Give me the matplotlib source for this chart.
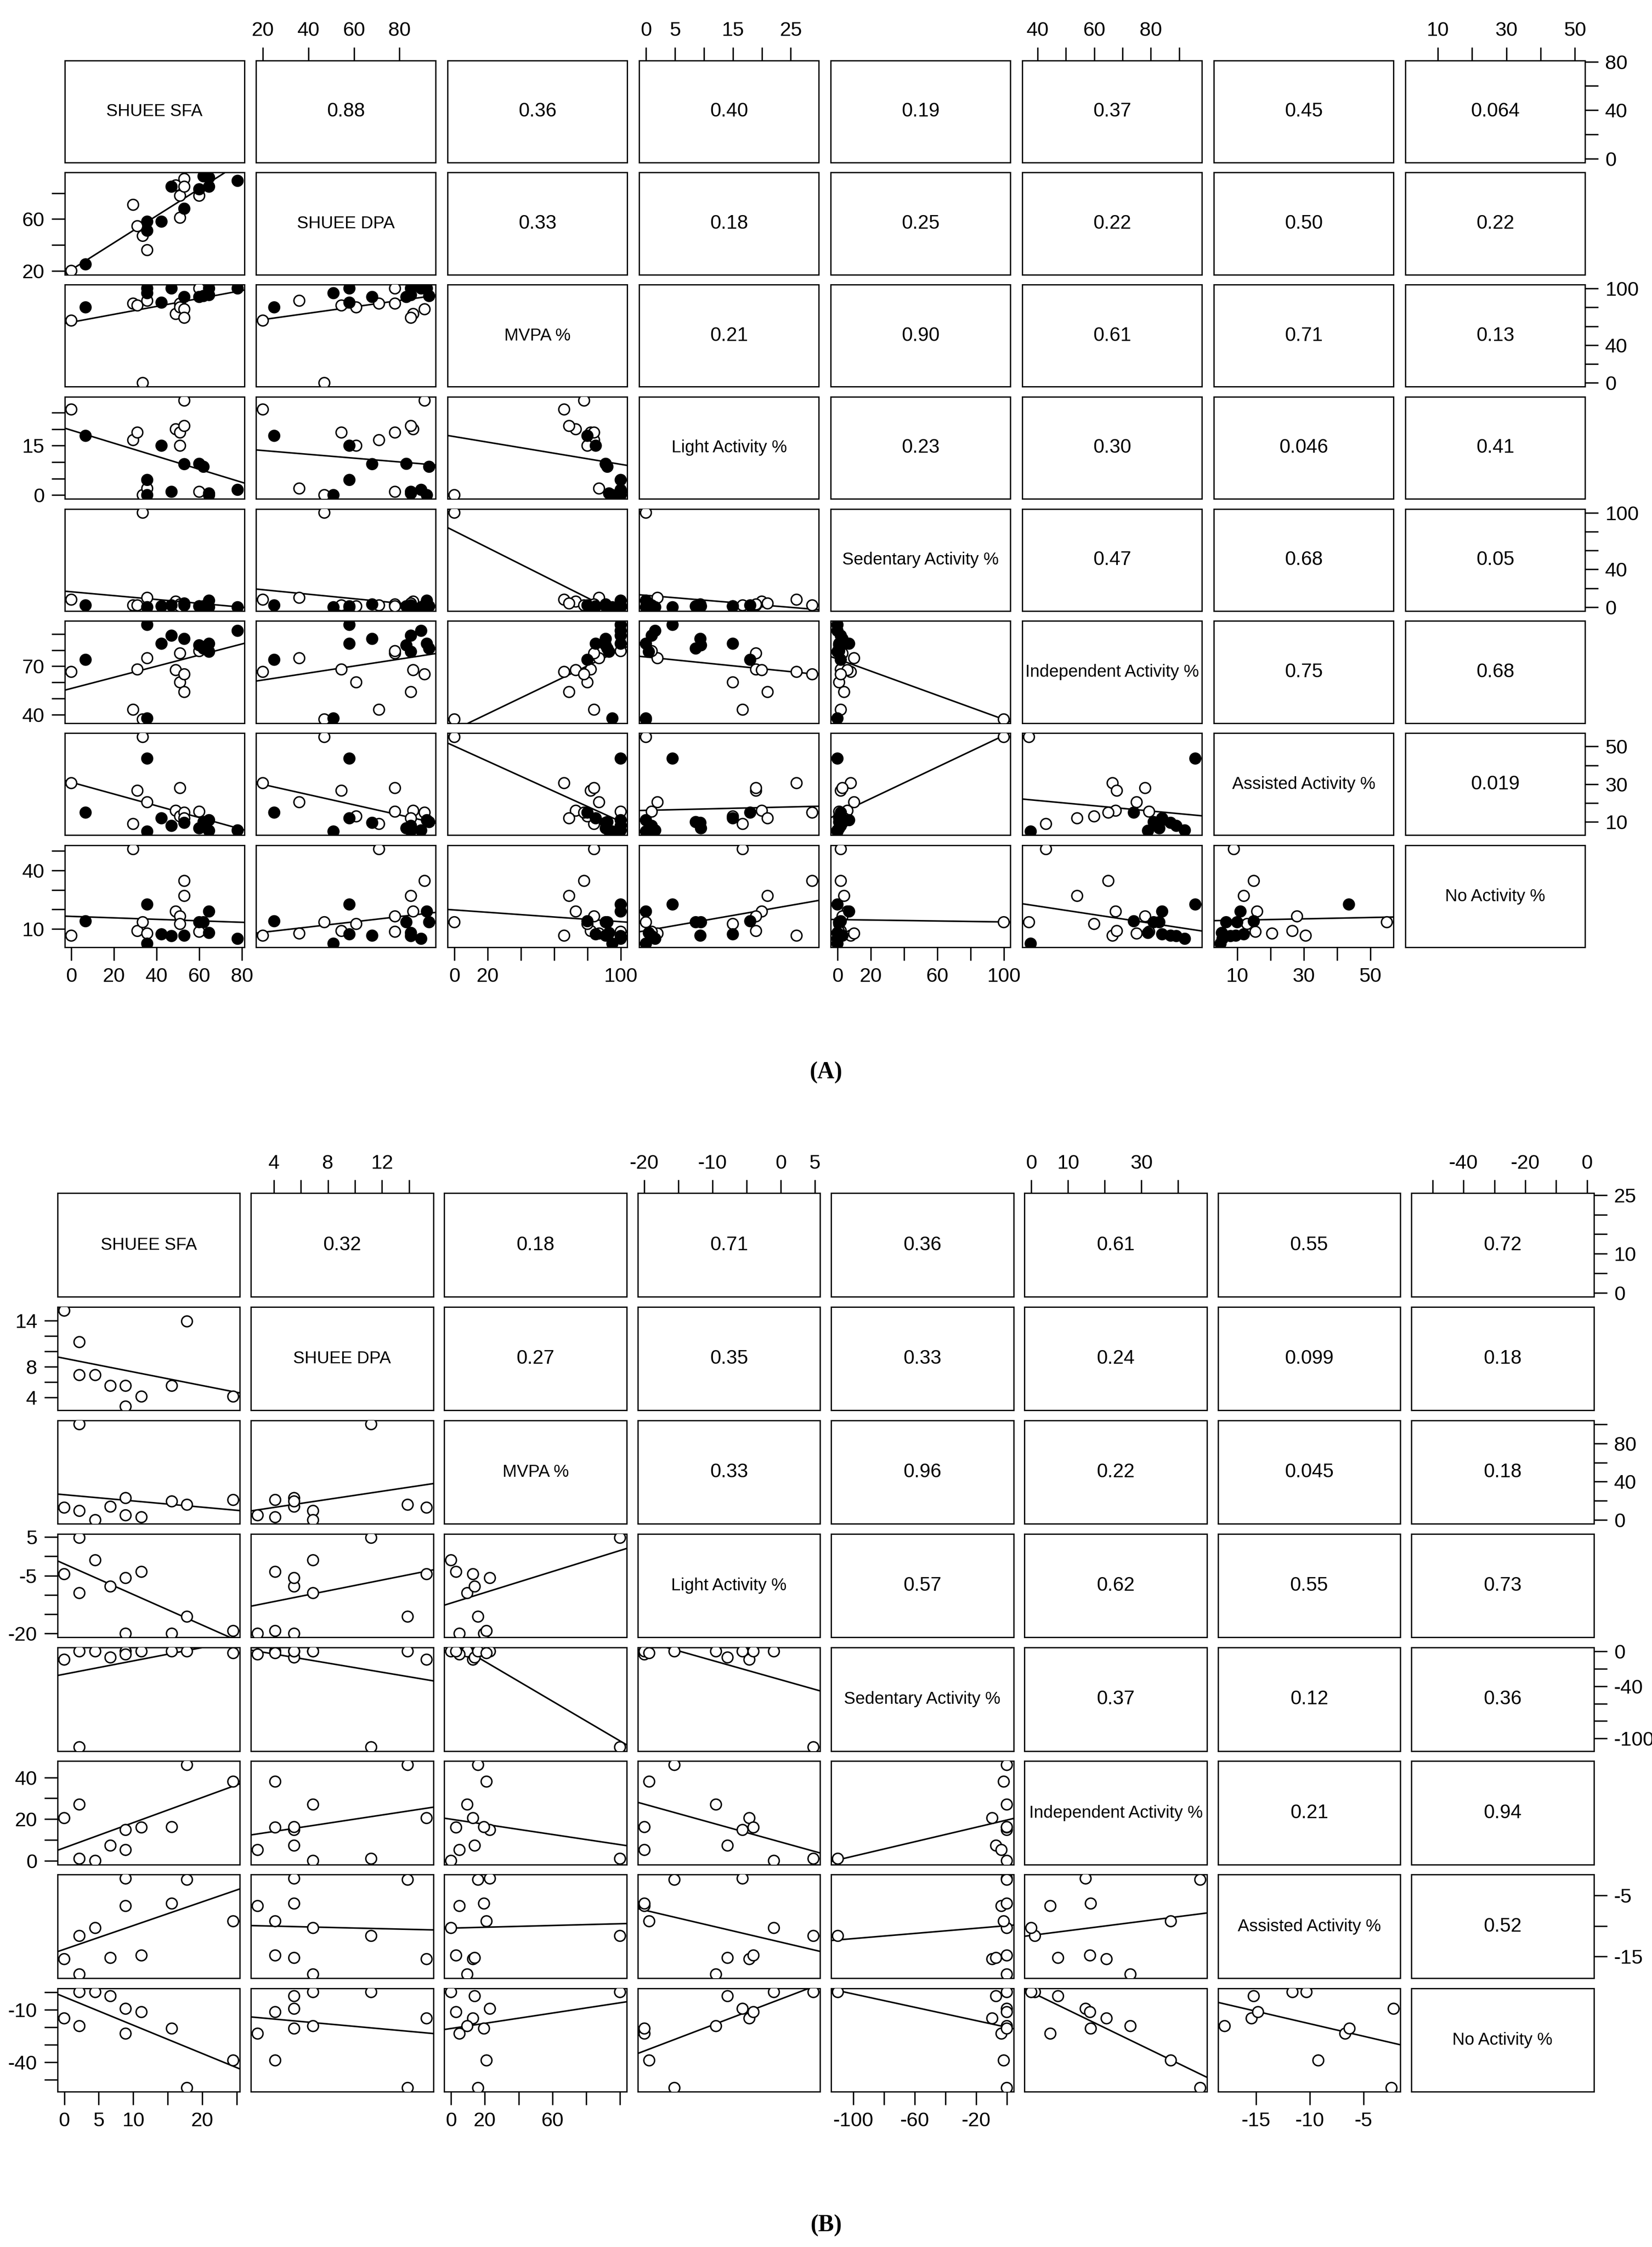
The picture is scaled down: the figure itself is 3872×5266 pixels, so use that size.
import numpy as np
import matplotlib
matplotlib.use('Agg')
import matplotlib.pyplot as plt

# 변수 이름
names = ['SHUEE SFA', 'SHUEE DPA', 'MVPA %', 'Light Activity %', 'Sedentary Activity %',
         'Independent Activity %', 'Assisted Activity %', 'No Activity %']

# (A) 데이터: 열린 원 11명, 채운 원 11명
a_filled = [0]*11 + [1]*11
a_sfa   = [0, 29, 31, 33.5, 35.6, 49, 51, 51, 53, 53, 60,   6.7, 35.6, 35.6, 42.3, 47, 53, 60, 62, 64.6, 64.6, 78]
a_dpa   = [20, 71, 54.5, 47, 36, 86, 78, 61, 91, 85, 78,    25, 58, 51, 58, 85, 68, 83, 93, 92, 85, 89.5]
a_mvpa  = [66, 84, 82, 0, 87, 73, 84, 80, 78, 69, 100,      80, 100, 95, 85, 100, 91, 91, 92, 100, 93, 100]
a_light = [26, 16.7, 19, 0, 2, 20, 19, 15, 28.7, 21, 1,     18, 4.6, 0, 15, 1, 9.4, 9.5, 8.6, 0, 0.5, 1.6]
a_sed   = [8, 2, 2, 100, 10, 6, 3, 1, 2, 4, 1,              2, 0, 0, 1, 2, 3, 1, 1, 7, 0, 0]
a_ind   = [66.5, 43, 68, 37, 75, 67.6, 78, 60, 65, 54, 79.4, 74, 95.7, 37.6, 84, 89, 87, 83, 81, 84, 79, 92]
a_ass   = [30.6, 9, 26.6, 55, 20.5, 16, 28, 13, 15, 12, 15.5, 15, 43.6, 5, 12, 8, 9.6, 6.7, 10, 11, 5.4, 5.6]
a_no    = [6.6, 51, 9, 13.5, 7.7, 19, 16.5, 12.6, 34.7, 27, 8.6, 14, 22.6, 2.5, 7.3, 6.4, 6.6, 13.5, 13.5, 19, 8, 5]
a_corr = ['0.88', '0.36', '0.40', '0.19', '0.37', '0.45', '0.064',
          '0.33', '0.18', '0.25', '0.22', '0.50', '0.22',
          '0.21', '0.90', '0.61', '0.71', '0.13',
          '0.23', '0.30', '0.046', '0.41',
          '0.47', '0.68', '0.05',
          '0.75', '0.68',
          '0.019']

# (B) 데이터: 11명
b_sfa   = [0, 2.2, 2.2, 4.5, 6.7, 8.9, 8.9, 11.2, 15.6, 17.8, 24.5]
b_dpa   = [15.3, 11.2, 6.9, 6.9, 5.5, 5.5, 2.8, 4.1, 5.5, 13.9, 4.1]
b_mvpa  = [13, 100, 9.6, 0, 14, 23, 5, 3, 19.5, 16, 21]
b_light = [-4.6, 4.8, -9.5, -1, -7.8, -5.6, -20, -4, -20, -15.6, -19.3]
b_sed   = [-9.5, -110, 0, 0, -7, 0, -3.5, 0, 0, 0, -2]
b_ind   = [20.5, 1, 27, 0, 7.3, 14.8, 5.2, 16, 16.2, 46, 38]
b_ass   = [-15.4, -11.6, -17.9, -10.3, -15.2, -2.2, -6.7, -14.8, -6.3, -2.4, -9.2]
b_no    = [-15, 0, -19.4, 0, -2.3, -9.5, -23.7, -11.4, -20.8, -54.7, -39]
b_corr = ['0.32', '0.18', '0.71', '0.36', '0.61', '0.55', '0.72',
          '0.27', '0.35', '0.33', '0.24', '0.099', '0.18',
          '0.33', '0.96', '0.22', '0.045', '0.18',
          '0.57', '0.62', '0.55', '0.73',
          '0.37', '0.12', '0.36',
          '0.21', '0.94',
          '0.52']

# 눈금: (위치, x축 라벨, y축 라벨)
a_ticks = [
    ([0, 20, 40, 60, 80], ['0', '20', '40', '60', '80'], ['0', '', '40', '', '80']),
    ([20, 40, 60, 80], ['20', '40', '60', '80'], ['20', '', '60', '']),
    ([0, 20, 40, 60, 80, 100], ['0', '20', '', '', '', '100'], ['0', '', '40', '', '', '100']),
    ([0, 5, 10, 15, 20, 25], ['0', '5', '', '15', '', '25'], ['0', '', '', '15', '', '']),
    ([0, 20, 40, 60, 80, 100], ['0', '20', '', '60', '', '100'], ['0', '', '40', '', '', '100']),
    ([40, 50, 60, 70, 80, 90], ['40', '', '60', '', '80', ''], ['40', '', '', '70', '', '']),
    ([10, 20, 30, 40, 50], ['10', '', '30', '', '50'], ['10', '', '30', '', '50']),
    ([10, 20, 30, 40, 50], ['10', '', '30', '', '50'], ['10', '', '', '40', '']),
]
b_ticks = [
    ([0, 5, 10, 15, 20, 25], ['0', '5', '10', '', '20', ''], ['0', '', '10', '', '', '25']),
    ([4, 6, 8, 10, 12, 14], ['4', '', '8', '', '12', ''], ['4', '', '8', '', '', '14']),
    ([0, 20, 40, 60, 80, 100], ['0', '20', '', '60', '', ''], ['0', '', '40', '', '80', '']),
    ([-20, -15, -10, -5, 0, 5], ['-20', '', '-10', '', '0', '5'], ['-20', '', '', '-5', '', '5']),
    ([-100, -80, -60, -40, -20, 0], ['-100', '', '-60', '', '-20', ''], ['-100', '', '', '-40', '', '0']),
    ([0, 10, 20, 30, 40], ['0', '10', '', '30', ''], ['0', '', '20', '', '40']),
    ([-15, -10, -5], ['-15', '-10', '-5'], ['-15', '', '-5']),
    ([-50, -40, -30, -20, -10, 0], ['', '-40', '', '-20', '', '0'], ['', '-40', '', '', '-10', '']),
]

W, H = 1150.0, 1563.0
fig = plt.figure(figsize=(38.73, 52.66), dpi=100)
plt.rcParams['font.family'] = ['Liberation Sans', 'DejaVu Sans']
fs_tick, fs_corr, fs_diag = 34, 33, 29


def draw_pairs(data, filled, corr, ticks, x0, xpitch, cw, y0, ypitch, rh):
    data = [np.array(d, dtype=float) for d in data]
    n = len(data)
    lims = []
    for d in data:
        lo, hi = d.min(), d.max()
        pad = (hi - lo) * 0.04
        lims.append((lo - pad, hi + pad))
    k = 0
    for i in range(n):
        for j in range(n):
            left = (x0 + j * xpitch) / W
            bottom = 1 - (y0 + i * ypitch + rh) / H
            ax = fig.add_axes([left, bottom, cw / W, rh / H])
            ax.set_xlim(lims[j])
            ax.set_ylim(lims[i])
            for s in ax.spines.values():
                s.set_linewidth(2.2)
            ax.set_xticks([])
            ax.set_yticks([])
            if i == j:
                ax.text(0.5, 0.5, names[i], ha='center', va='center', fontsize=fs_diag, transform=ax.transAxes)
            elif j > i:
                pass
            else:
                x, y = data[j], data[i]
                face = ['black' if f else 'white' for f in filled]
                ax.scatter(x, y, s=330, facecolors=face, edgecolors='black', linewidths=2.4, zorder=3)
                b, a = np.polyfit(x, y, 1)
                xx = np.array(lims[j])
                ax.plot(xx, a + b * xx, color='black', lw=2.6)
            # 위쪽 삼각형 상관계수는 아래 루프에서
            tk, xl, yl = ticks[j]
            if i == 0 and j % 2 == 1:
                ax.set_xticks(tk, xl)
                ax.tick_params(axis='x', top=True, bottom=False, labeltop=True, labelbottom=False)
            if i == n - 1 and j % 2 == 0:
                ax.set_xticks(tk, xl)
            tk, xl, yl = ticks[i]
            if j == 0 and i % 2 == 1:
                ax.set_yticks(tk, yl)
            if j == n - 1 and i % 2 == 0:
                ax.set_yticks(tk, yl)
                ax.tick_params(axis='y', right=True, left=False, labelright=True, labelleft=False)
            ax.tick_params(length=22, width=2.4, labelsize=fs_tick, pad=12)
            if j > i:
                ax.text(0.5, 0.5, corr[k], ha='center', va='center', fontsize=fs_corr, transform=ax.transAxes)
                k += 1


draw_pairs([a_sfa, a_dpa, a_mvpa, a_light, a_sed, a_ind, a_ass, a_no], a_filled, a_corr, a_ticks,
           45, 133.3, 125, 42, 78, 71)
draw_pairs([b_sfa, b_dpa, b_mvpa, b_light, b_sed, b_ind, b_ass, b_no], [0]*len(b_sfa), b_corr, b_ticks,
           40, 134.6, 127, 830, 79, 72)

fig.text(0.5, 1 - 746 / H, '(A)', ha='center', va='center', fontsize=40, fontweight='bold',
         family=['Liberation Serif', 'DejaVu Serif'])
fig.text(0.5, 1 - 1548 / H, '(B)', ha='center', va='center', fontsize=40, fontweight='bold',
         family=['Liberation Serif', 'DejaVu Serif'])

fig.savefig('out.png', dpi=100, facecolor='white')
